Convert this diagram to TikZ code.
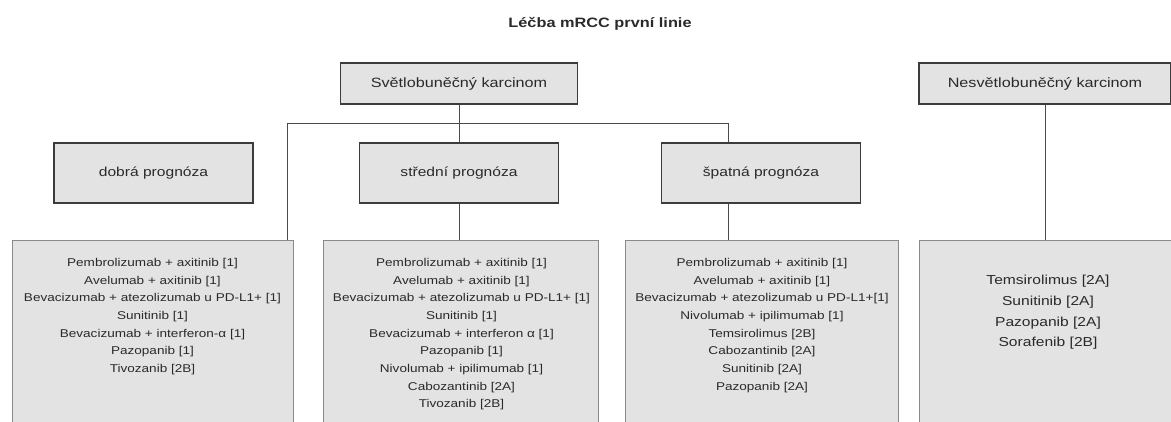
\documentclass[tikz,border=0pt]{standalone}
\usepackage{fontspec}
\setmainfont{Liberation Sans}[FakeStretch=1.2]
\definecolor{boxfill}{HTML}{E3E3E3}
\definecolor{edge}{HTML}{3C3C3C}
\definecolor{lightedge}{HTML}{8A8A8A}
\definecolor{linec}{HTML}{4A4A4A}
\definecolor{txt}{HTML}{2A2A2A}
\begin{document}
\begin{tikzpicture}[x=1pt,y=-1pt,
  hbox/.style={draw=edge, line width=1.1pt, fill=boxfill, minimum height=41pt, inner sep=0pt, font=\fontsize{13.5}{16}\selectfont, text=txt},
  pbox/.style={draw=edge, line width=1.1pt, fill=boxfill, minimum width=199pt, minimum height=60pt, inner sep=0pt, font=\fontsize{13}{16}\selectfont, text=txt},
  lbox/.style={draw=lightedge, line width=0.9pt, fill=boxfill, minimum height=200pt, anchor=north, inner sep=0pt},
  ltext/.style={anchor=north, align=center, font=\fontsize{11.3}{17.7}\selectfont, text=txt, inner sep=0pt},
  conn/.style={draw=linec, line width=1pt}]
\useasboundingbox (0,0) rectangle (1171,421);
\clip (0,0) rectangle (1171,421);

\node[font=\bfseries\fontsize{13.6}{16}\selectfont, text=txt] (title) at (600,24) {Léčba mRCC první linie};

\node[hbox, minimum width=237pt] (sv) at (459,83.5) {Světlobuněčný karcinom};
\node[hbox, minimum width=252pt] (ns) at (1045,83.5) {Nesvětlobuněčný karcinom};

\node[pbox] (dp) at (153.5,173) {dobrá prognóza};
\node[pbox] (sp) at (459,173) {střední prognóza};
\node[pbox] (pp) at (761,173) {špatná prognóza};

\node[lbox, minimum width=281pt] (b1) at (152.5,240) {};
\node[lbox, minimum width=275pt] (b2) at (460.5,240) {};
\node[lbox, minimum width=273pt] (b3) at (761.5,240) {};
\node[lbox, minimum width=256pt] (b4) at (1047,240) {};

\node[ltext] (t1) at (152.5,258) {Pembrolizumab + axitinib [1]\\Avelumab + axitinib [1]\\Bevacizumab + atezolizumab u PD-L1+ [1]\\Sunitinib [1]\\Bevacizumab + interferon-α [1]\\Pazopanib [1]\\Tivozanib [2B]};
\node[ltext] (t2) at (461.5,258) {Pembrolizumab + axitinib [1]\\Avelumab + axitinib [1]\\Bevacizumab + atezolizumab u PD-L1+ [1]\\Sunitinib [1]\\Bevacizumab + interferon α [1]\\Pazopanib [1]\\Nivolumab + ipilimumab [1]\\Cabozantinib [2A]\\Tivozanib [2B]};
\node[ltext] (t3) at (762,258) {Pembrolizumab + axitinib [1]\\Avelumab + axitinib [1]\\Bevacizumab + atezolizumab u PD-L1+[1]\\Nivolumab + ipilimumab [1]\\Temsirolimus [2B]\\Cabozantinib [2A]\\Sunitinib [2A]\\Pazopanib [2A]};
\node[ltext, font=\fontsize{13}{20.7}\selectfont] (t4) at (1048,275) {Temsirolimus [2A]\\Sunitinib [2A]\\Pazopanib [2A]\\Sorafenib [2B]};

\coordinate (barL) at (287,123);
\coordinate (barR) at (728,123);
\draw[conn] (sv.south) -- (sv.south |- barL);
\draw[conn] (barL) -- (barR);
\draw[conn] (barL) -- (barL |- b1.north);
\draw[conn] (sp.north |- barL) -- (sp.north);
\draw[conn] (sp.south) -- (b2.north -| sp.south);
\draw[conn] (barR) -- (barR |- pp.north);
\draw[conn] (barR |- pp.south) -- (barR |- b3.north);
\draw[conn] (ns.south) -- (ns.south |- b4.north);
\end{tikzpicture}
\end{document}
